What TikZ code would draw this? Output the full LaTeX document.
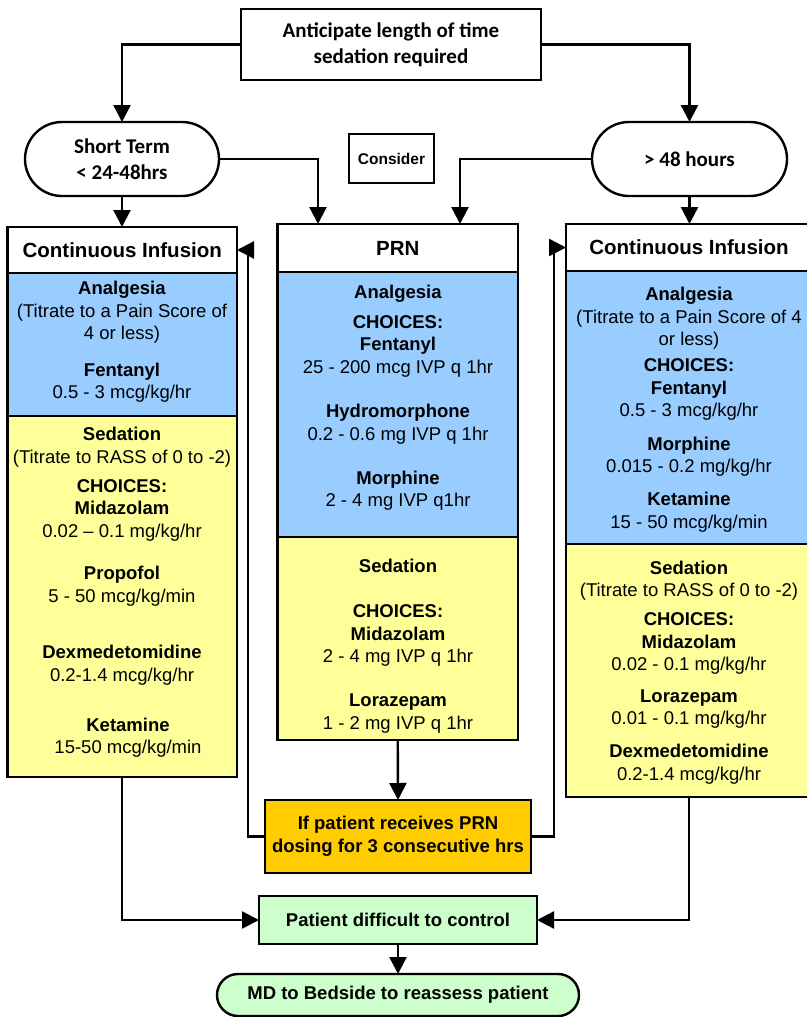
\documentclass[tikz,border=0pt]{standalone}
\usepackage{fontspec}
\setmainfont{Liberation Sans}
\newfontfamily\calfont{Carlito}
\usetikzlibrary{arrows.meta,shapes.misc}
\definecolor{cblue}{HTML}{99CCFF}
\definecolor{cyel}{HTML}{FFFF99}
\definecolor{corg}{HTML}{FFCC00}
\definecolor{cgrn}{HTML}{CCFFCC}
\newcommand\st{\rule[-4.75pt]{0pt}{22.5pt}}
\tikzset{
  sec/.style={draw=black, line width=2.4pt, rectangle, inner sep=0pt, outer sep=0pt},
  stad/.style={draw=black, line width=2.4pt, rounded rectangle, inner sep=0pt, outer sep=0pt, fill=white},
  conn/.style={line width=2.4pt},
  arr/.style={conn, -{Triangle[width=17pt,length=17pt]}},
  body/.style={font=\fontsize{18.5}{22.5}\selectfont, align=center, inner sep=0pt},
  hdr/.style={font=\fontsize{20.5}{24}\selectfont\bfseries},
  calt/.style={font=\calfont\bfseries\fontsize{21}{26}\selectfont, align=center},
  boldt/.style={font=\fontsize{18.5}{23}\selectfont\bfseries, align=center}
}
\begin{document}
\begin{tikzpicture}[x=1pt,y=-1pt]
\useasboundingbox (0,0) rectangle (806,1017);
\fill[white] (0,0) rectangle (806,1017);

% top row
\node[sec, fill=white, minimum width=300pt, minimum height=71pt, calt] (top) at (391,44.5) {Anticipate length of time\\sedation required};
\node[stad, minimum width=194pt, minimum height=74pt, calt] (short) at (122,159) {Short Term\\< 24-48hrs};
\node[stad, minimum width=195pt, minimum height=74pt, calt] (long) at (689.5,159) {> 48 hours};
\node[sec, line width=2pt, fill=white, minimum width=85pt, minimum height=49pt, font=\fontsize{15.5}{18}\selectfont\bfseries] (cons) at (391.5,158.5) {Consider};

% left column
\node[sec, fill=cblue, minimum width=229.5pt, minimum height=143pt] (lbl) at (122.25,344.5) {};
\node[sec, fill=cyel, minimum width=229.5pt, minimum height=361pt] (lyl) at (122.25,596.5) {};
\node[sec, fill=white, minimum width=229.5pt, minimum height=46pt, hdr] (lhd) at (122.25,250) {Continuous Infusion};

% PRN column
\node[sec, fill=cblue, minimum width=240.5pt, minimum height=265pt] (pbl) at (397.75,404.5) {};
\node[sec, fill=cyel, minimum width=240.5pt, minimum height=203pt] (pyl) at (397.75,638.5) {};
\node[sec, fill=white, minimum width=240.5pt, minimum height=48pt, hdr] (phd) at (397.75,248) {PRN};

% right column
\node[sec, fill=cblue, minimum width=246pt, minimum height=273pt] (rbl) at (689,407.5) {};
\node[sec, fill=cyel, minimum width=246pt, minimum height=253pt] (ryl) at (689,670.5) {};
\node[sec, fill=white, minimum width=246pt, minimum height=47pt, hdr] (rhd) at (689,247.5) {Continuous Infusion};

% bottom
\node[sec, fill=corg, minimum width=266pt, minimum height=73pt, boldt] (org) at (398,836.5) {If patient receives PRN\\dosing for 3 consecutive hrs};
\node[sec, fill=cgrn, minimum width=278pt, minimum height=48pt, boldt] (grn) at (398,920) {Patient difficult to control};
\node[stad, fill=cgrn, minimum width=362pt, minimum height=42pt, boldt] (md) at (398,995) {MD to Bedside to reassess patient};

% left texts
\node[body] (l1) at (122,310.5) {\st\textbf{Analgesia}\\\st(Titrate to a Pain Score of\\\st4 or less)};
\node[body] (l2) at (122,381) {\st\textbf{Fentanyl}\\\st0.5 - 3 mcg/kg/hr};
\node[body] (l3) at (122,445.5) {\st\textbf{Sedation}\\\st(Titrate to RASS of 0 to -2)};
\node[body] (l4) at (122,508) {\st\textbf{CHOICES:}\\\st\textbf{Midazolam}\\\st0.02 -- 0.1 mg/kg/hr};
\node[body] (l5) at (122,584.5) {\st\textbf{Propofol}\\\st5 - 50 mcg/kg/min};
\node[body] (l6) at (122,663.5) {\st\textbf{Dexmedetomidine}\\\st0.2-1.4 mcg/kg/hr};
\node[body] (l7) at (128,736) {\st\textbf{Ketamine}\\\st15-50 mcg/kg/min};

% PRN texts
\node[body] (p1) at (398,292) {\st\textbf{Analgesia}};
\node[body] (p2) at (398,344) {\st\textbf{CHOICES:}\\\st\textbf{Fentanyl}\\\st25 - 200 mcg IVP q 1hr};
\node[body] (p3) at (398,422.5) {\st\textbf{Hydromorphone}\\\st0.2 - 0.6 mg IVP q 1hr};
\node[body] (p4) at (398,489) {\st\textbf{Morphine}\\\st2 - 4 mg IVP q1hr};
\node[body] (p5) at (398,566) {\st\textbf{Sedation}};
\node[body] (p6) at (398,633.5) {\st\textbf{CHOICES:}\\\st\textbf{Midazolam}\\\st2 - 4 mg IVP q 1hr};
\node[body] (p7) at (398,711.5) {\st\textbf{Lorazepam}\\\st1 - 2 mg IVP q 1hr};

% right texts
\node[body] (r1) at (689,316.5) {\st\textbf{Analgesia}\\\st(Titrate to a Pain Score of 4\\\st or less)};
\node[body] (r2) at (689,387.5) {\st\textbf{CHOICES:}\\\st\textbf{Fentanyl}\\\st0.5 - 3 mcg/kg/hr};
\node[body] (r3) at (689,455) {\st\textbf{Morphine}\\\st0.015 - 0.2 mg/kg/hr};
\node[body] (r4) at (689,510.5) {\st\textbf{Ketamine}\\\st15 - 50 mcg/kg/min};
\node[body] (r5) at (689,579) {\st\textbf{Sedation}\\\st(Titrate to RASS of 0 to -2)};
\node[body] (r6) at (689,641.5) {\st\textbf{CHOICES:}\\\st\textbf{Midazolam}\\\st0.02 - 0.1 mg/kg/hr};
\node[body] (r7) at (689,707) {\st\textbf{Lorazepam}\\\st0.01 - 0.1 mg/kg/hr};
\node[body] (r8) at (689,762.5) {\st\textbf{Dexmedetomidine}\\\st0.2-1.4 mcg/kg/hr};

% connectors
\coordinate (sp) at (318,224);
\coordinate (lp) at (460,224);
\draw[arr] (top.west) -| (short.north);
\draw[arr] (top.east) -| (long.north);
\draw[arr] (short.south) -- (short.south |- lhd.north);
\draw[arr] (long.south) -- (long.south |- rhd.north);
\draw[arr] (short.east) -| (sp);
\draw[arr] (long.west) -| (lp);
\draw[arr] (pyl.south) -- (org.north);
\draw[arr] (org.west) -- ++(-17,0) |- (lhd.east);
\draw[arr] (org.east) -- ++(23,0) |- (rhd.west);
\draw[arr] (lyl.south) |- (grn.west);
\draw[arr] (ryl.south) |- (grn.east);
\draw[arr] (grn.south) -- (md.north);
\end{tikzpicture}
\end{document}
